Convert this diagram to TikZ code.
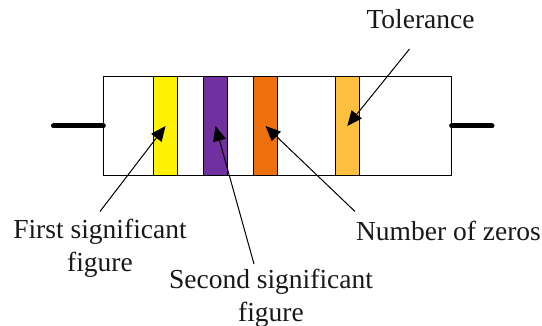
\documentclass[tikz,border=0pt]{standalone}
\usepackage{fontspec}
\setmainfont{Liberation Serif}
\usetikzlibrary{arrows.meta}
\definecolor{bandpurple}{RGB}{112,48,160}
\definecolor{bandorange}{RGB}{237,112,13}
\definecolor{bandgold}{RGB}{255,192,64}
\tikzset{
 lbl/.style={font=\fontsize{27.5}{33}\selectfont,align=center,inner sep=0pt,text=black!90},
 band/.style={draw=black,line width=1.1pt,minimum width=24.5pt,minimum height=98.5pt,inner sep=0pt,outer sep=0pt},
 lead/.style={line width=5pt,line cap=round},
 pointer/.style={line width=1pt,-{Triangle[length=15pt,width=13pt]}}
}
\begin{document}
\begin{tikzpicture}[x=1pt,y=-1pt]
\useasboundingbox (0,0) rectangle (542,326);
\fill[white] (0,0) rectangle (542,326);
\node[draw=black,line width=1.1pt,minimum width=348.3pt,minimum height=98.4pt,inner sep=0pt,outer sep=0pt] (body) at (277.5,126) {};
\coordinate (leadL) at (53.5,126);
\coordinate (leadR) at (492,126);
\draw[lead] (leadL) -- (body.west);
\draw[lead] (body.east) -- (leadR);
\node[band,fill=yellow] (b1) at (165.5,126) {};
\node[band,fill=bandpurple] (b2) at (215.5,126) {};
\node[band,fill=bandorange] (b3) at (265.5,126) {};
\node[band,fill=bandgold] (b4) at (347.3,126) {};
\node[lbl] (tol) at (420.5,19) {Tolerance};
\node[lbl] (first) at (100,248.5) {First significant\\figure};
\node[lbl] (second) at (271,298) {Second significant\\figure};
\node[lbl] (zeros) at (448.5,231) {Number of zeros};
\coordinate (t1) at (409.5,49);
\coordinate (f1) at (100,211.5);
\coordinate (s1) at (254,264);
\coordinate (z1) at (355,211.5);
\draw[pointer] (t1) -- (b4.center);
\draw[pointer] (f1) -- (b1.center);
\draw[pointer] (s1) -- (b2.center);
\draw[pointer] (z1) -- (b3.center);
\end{tikzpicture}
\end{document}
